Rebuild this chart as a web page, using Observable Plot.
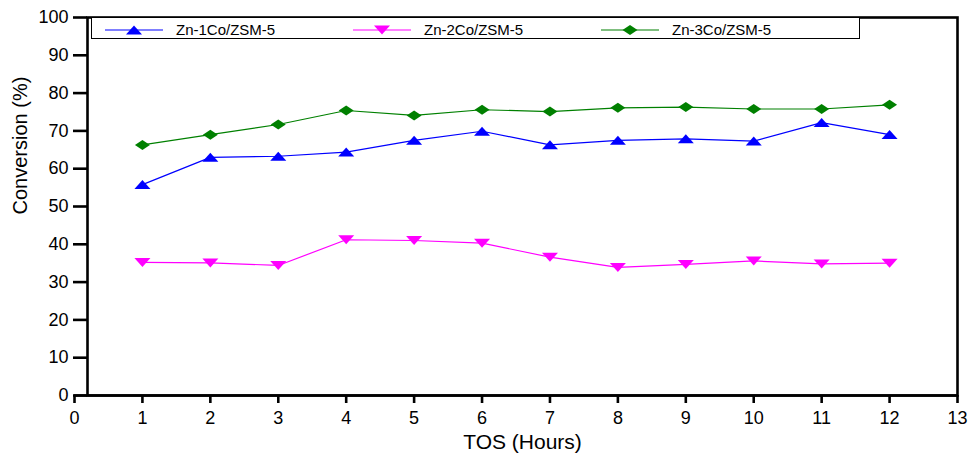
<!DOCTYPE html>
<html>
<head>
<meta charset="utf-8">
<script src="https://cdn.jsdelivr.net/npm/d3@7"></script>
<script src="https://cdn.jsdelivr.net/npm/@observablehq/plot@0.6"></script>
<style>
  html, body { margin: 0; padding: 0; background: #fff; }
  #wrap { position: relative; width: 970px; height: 457px; font-family: "Liberation Sans", Arial, sans-serif; }
  #legend { position: absolute; left: 91px; top: 17px; width: 769px; height: 22px; box-sizing: border-box;
            border: 1px solid #000; display: flex; align-items: center; padding-left: 13px; padding-top: 3px; background: #fff; }
  .entry { display: flex; align-items: center; width: 248px; font-size: 15px; color: #000; }
  .entry svg { margin-right: 13px; }
</style>
</head>
<body>
<div id="wrap"></div>
<script>
// ---- data ----
const hours = [1, 2, 3, 4, 5, 6, 7, 8, 9, 10, 11, 12];
const seriesNames = ["Zn-1Co/ZSM-5", "Zn-2Co/ZSM-5", "Zn-3Co/ZSM-5"];
const seriesColors = ["#0000ff", "#ff00ff", "#008000"];
const zn1Co = [55.8, 63.0, 63.3, 64.4, 67.5, 69.9, 66.3, 67.5, 67.9, 67.3, 72.2, 69.0];
const zn2Co = [35.2, 35.1, 34.4, 41.2, 41.0, 40.3, 36.6, 33.9, 34.7, 35.6, 34.8, 35.0];
const zn3Co = [66.3, 69.0, 71.7, 75.4, 74.1, 75.6, 75.1, 76.1, 76.3, 75.8, 75.8, 76.9];
const xTicks = [0, 1, 2, 3, 4, 5, 6, 7, 8, 9, 10, 11, 12, 13];
const yTicks = [0, 10, 20, 30, 40, 50, 60, 70, 80, 90, 100];
const xDomain = [0, 13];
const yDomain = [0, 100];
const xLabel = "TOS (Hours)";
const yLabel = "Conversion (%)";

// ---- symbols (Origin-like flattened shapes) ----
function makeSymbol(points) {
  return {
    draw(ctx, size) {
      const k = Math.sqrt(size / Math.PI) / 8;
      points.forEach(([px, py], i) => i ? ctx.lineTo(px * k, py * k) : ctx.moveTo(px * k, py * k));
      ctx.closePath();
    }
  };
}
const triUp = makeSymbol([[0, -4.6], [8, 4.4], [-8, 4.4]]);
const triDown = makeSymbol([[0, 4.6], [8, -4.4], [-8, -4.4]]);
const diamond = makeSymbol([[0, -5], [7.5, 0], [0, 5], [-7.5, 0]]);
const symbols = [triUp, triDown, diamond];

const seriesValues = [zn1Co, zn2Co, zn3Co];
const tables = seriesValues.map((vals, s) => hours.map((h, i) => ({h, v: vals[i], s: seriesNames[s]})));

const W = 970, H = 457;
const mL = 87, mT = 17, mR = 13, mB = 62;

const marks = [
  Plot.frame({stroke: "#000", strokeWidth: 2.6}),
  Plot.ruleY([yDomain[0]], {x1: () => xDomain[0], x2: () => xDomain[1], stroke: "#000", strokeWidth: 2.6}),
  Plot.axisY({ticks: yTicks, tickSize: 14, tickPadding: 5, fontSize: 18, strokeWidth: 2.6, label: null, tickFormat: d => String(d)}),
  Plot.axisX({ticks: xTicks, tickSize: 8, tickPadding: 8, fontSize: 18, strokeWidth: 2.6, label: null, tickFormat: d => String(d)}),
];
tables.forEach((rows, s) => {
  marks.push(Plot.line(rows, {x: "h", y: "v", stroke: seriesColors[s], strokeWidth: 1.2}));
  marks.push(Plot.dot(rows, {x: "h", y: "v", symbol: symbols[s], r: 8, fill: seriesColors[s], stroke: "none"}));
});
marks.push(Plot.text([xLabel], {frameAnchor: "bottom", dy: 47, fontSize: 21, fill: "#000", lineAnchor: "middle"}));
marks.push(Plot.text([yLabel], {frameAnchor: "left", dx: -67, dy: 8, rotate: -90, fontSize: 20, fill: "#000", lineAnchor: "middle"}));

const chart = Plot.plot({
  width: W, height: H,
  marginLeft: mL, marginTop: mT, marginRight: mR, marginBottom: mB,
  style: {fontFamily: "'Liberation Sans', Arial, sans-serif", color: "#000", background: "#fff", overflow: "visible"},
  x: {domain: xDomain, range: [74, W - mR]},
  y: {domain: yDomain},
  marks
});
const wrap = document.getElementById("wrap");
wrap.appendChild(chart);

// ---- legend ----
const legend = document.createElement("div");
legend.id = "legend";
seriesNames.forEach((name, s) => {
  const entry = document.createElement("div");
  entry.className = "entry";
  const svg = d3.create("svg").attr("width", 58).attr("height", 12);
  svg.append("line").attr("x1", 0).attr("x2", 58).attr("y1", 6).attr("y2", 6)
    .attr("stroke", seriesColors[s]).attr("stroke-width", 1.2);
  const p = d3.path();
  symbols[s].draw(p, 8 * 8 * Math.PI);
  svg.append("path").attr("d", p.toString()).attr("transform", "translate(29,6)").attr("fill", seriesColors[s]);
  entry.appendChild(svg.node());
  const t = document.createElement("span");
  t.textContent = name;
  entry.appendChild(t);
  legend.appendChild(entry);
});
wrap.appendChild(legend);
</script>
</body>
</html>
